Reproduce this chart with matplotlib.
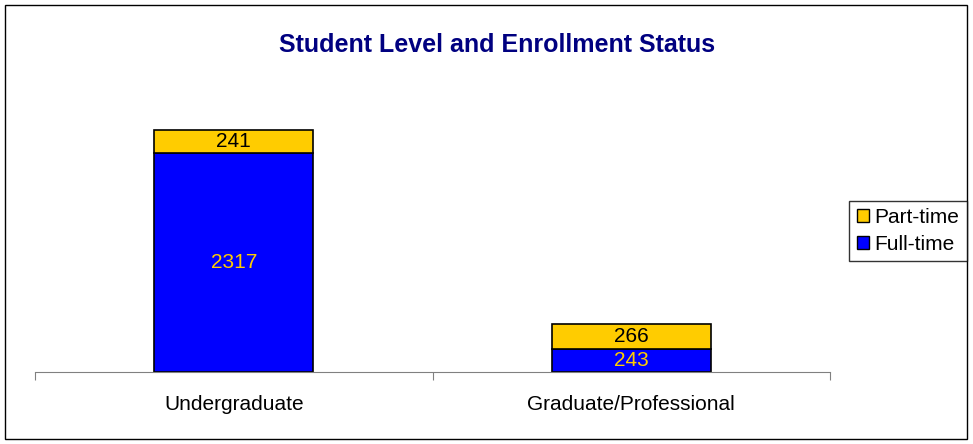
import matplotlib.pyplot as plt
from matplotlib.patches import Rectangle, Patch

plt.rcParams['font.family'] = ['Liberation Sans', 'DejaVu Sans']

categories = ['Undergraduate', 'Graduate/Professional']
full_time = [2317, 243]
part_time = [241, 266]

fig = plt.figure(figsize=(9.73, 4.44), dpi=100)
fig.patches.append(Rectangle((5 / 973, 5 / 444), 962 / 973, 434 / 444,
                             transform=fig.transFigure, fill=False,
                             edgecolor='black', linewidth=1))

ax = fig.add_axes([35 / 973, 72 / 444, 795 / 973, 284 / 444])
x = [0, 1]
w = 0.4
ax.bar(x, full_time, width=w, color='#0000FF', edgecolor='black', linewidth=1.2,
       label='Full-time')
ax.bar(x, part_time, width=w, bottom=full_time, color='#FFCC00', edgecolor='black',
       linewidth=1.2, label='Part-time')

for i in x:
    ax.text(i, full_time[i] / 2, str(full_time[i]), ha='center', va='center',
            color='#FFCC00', fontsize=15)
    ax.text(i, full_time[i] + part_time[i] / 2, str(part_time[i]), ha='center',
            va='center', color='black', fontsize=15)

ax.set_xlim(-0.5, 1.5)
ax.set_ylim(0, 3000)
ax.set_yticks([])
for s in ['top', 'right', 'left']:
    ax.spines[s].set_visible(False)
ax.spines['bottom'].set_color('#808080')
ax.set_xticks([-0.5, 0.5, 1.5])
ax.set_xticklabels([])
ax.tick_params(axis='x', direction='out', length=6, color='#808080')
for i, c in zip(x, categories):
    ax.text(i, -0.115, c, transform=ax.get_xaxis_transform(), ha='center',
            va='center', fontsize=15)

fig.text(0.511, 0.899, 'Student Level and Enrollment Status', ha='center',
         va='center', fontsize=18, fontweight='bold', color='#000080')

handles = [Patch(facecolor='#FFCC00', edgecolor='black', label='Part-time'),
           Patch(facecolor='#0000FF', edgecolor='black', label='Full-time')]
leg = fig.legend(handles=handles, loc='center', bbox_to_anchor=(908 / 973, 1 - 231 / 444),
                 fontsize=15, frameon=True, fancybox=False, edgecolor='black',
                 handlelength=0.6, handleheight=0.6, handletextpad=0.25,
                 borderpad=0.35, labelspacing=0.4, borderaxespad=0)
leg.get_frame().set_linewidth(1)

fig.savefig('out.png', dpi=100)
